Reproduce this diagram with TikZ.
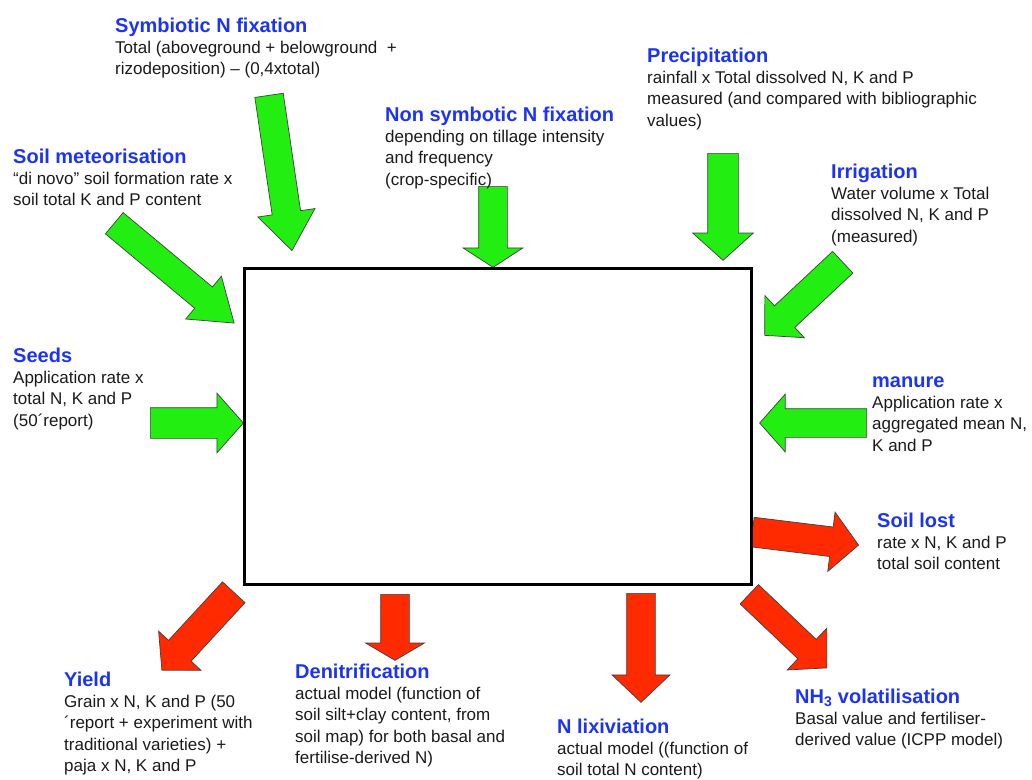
\documentclass[tikz,border=0pt]{standalone}
\usepackage{fontspec}
\setmainfont{Liberation Sans}
\usepackage{xcolor}
\usetikzlibrary{positioning,shapes.arrows}
\definecolor{fbGreen}{HTML}{22EE11}
\definecolor{fbRed}{HTML}{FF2A00}
\definecolor{fbBlue}{HTML}{1C34F2}
\definecolor{fbInk}{HTML}{1A1A1A}
\tikzset{
  basin/.style={draw=black, line width=3pt, minimum width=507pt, minimum height=316pt,
                inner sep=0pt},
  block/.style={single arrow, draw=black!75, line width=0.7pt, inner sep=0pt,
                minimum width=0pt, text height=29pt, text depth=0pt, anchor=tail,
                minimum height=107pt, single arrow head extend=14pt,
                single arrow tip angle=95},
  inflow/.style={block, fill=fbGreen},
  outflow/.style={block, fill=fbRed},
  ttl/.style={anchor=base west, inner sep=0pt, text depth=4pt, text=fbBlue,
              font=\fontsize{20}{24}\selectfont\bfseries},
  note/.style={inner sep=0pt, align=left, text=fbInk,
               font=\fontsize{17}{21.5}\selectfont},
}

\begin{document}
\begin{tikzpicture}[x=1pt, y=-1pt]
  \useasboundingbox (0,0) rectangle (1032,779);

  % inputs (green)
  \node[inflow, rotate=-81.6, minimum height=157pt, text height=28pt,
        single arrow head extend=14.5pt, single arrow tip angle=74] (symbA) at (269,95) {};
  \node[inflow, rotate=-39.8, minimum height=156pt, text height=27pt,
        single arrow tip angle=70] (meteoA) at (114,223) {};
  \node[inflow, rotate=-90, minimum height=81pt, text height=28pt,
        single arrow head extend=15.5pt, single arrow tip angle=114] (nonsymA) at (493,186) {};
  \node[inflow, rotate=-90, text height=30pt, single arrow head extend=15pt,
        single arrow tip angle=96] (precA) at (723,153) {};
  \node[inflow, rotate=-136.9, single arrow tip angle=93] (irrA) at (843,262) {};
  \node[inflow, minimum height=93pt, text height=30pt, single arrow head extend=14.5pt,
        single arrow tip angle=97] (seedA) at (150,423) {};
  \node[inflow, rotate=180, text height=28pt, single arrow head extend=14.5pt,
        single arrow tip angle=97] (manA) at (867,423) {};

  % outputs (red)
  \node[outflow, rotate=-7, single arrow head extend=15pt] (lostA) at (752,532) {};
  \node[outflow, rotate=-132.7, minimum height=106pt, text height=30pt,
        single arrow head extend=13.5pt] (yieldA) at (234,592) {};
  \node[outflow, rotate=-90, minimum height=66pt, text height=28pt,
        single arrow head extend=15pt, single arrow tip angle=119] (denA) at (395,594) {};
  \node[outflow, rotate=-90, minimum height=109pt, text height=28pt,
        single arrow head extend=14.5pt, single arrow tip angle=93] (lixA) at (641,593) {};
  \node[outflow, rotate=-43.5, text height=26pt, single arrow head extend=15.5pt,
        single arrow tip angle=93] (nhA) at (749,594) {};

  % field box
  \node[basin] (field) at (497.5,426) {};

  % labels
  \node[ttl] (symbT) at (115,32) {Symbiotic N fixation};
  \node[note, below=2pt of symbT.south west, anchor=north west] (symbB)
    {\strut Total (aboveground + belowground\ \ +\\ rizodeposition) – (0,4xtotal)};

  \node[ttl] (meteoT) at (13,163) {Soil meteorisation};
  \node[note, below=2pt of meteoT.south west, anchor=north west] (meteoB)
    {\strut “di novo” soil formation rate x\\ soil total K and P content};

  \node[ttl] (nonsymT) at (385,121) {Non symbotic N fixation};
  \node[note, below=2pt of nonsymT.south west, anchor=north west] (nonsymB)
    {\strut depending on tillage intensity\\ and frequency\\ (crop-specific)};

  \node[ttl] (precT) at (647,62) {Precipitation};
  \node[note, below=2pt of precT.south west, anchor=north west] (precB)
    {\strut rainfall x Total dissolved N, K and P\\ measured (and compared with bibliographic\\ values)};

  \node[ttl] (irrT) at (831,178) {Irrigation};
  \node[note, below=2pt of irrT.south west, anchor=north west] (irrB)
    {\strut Water volume x Total\\ dissolved N, K and P\\ (measured)};

  \node[ttl] (seedT) at (13,362) {Seeds};
  \node[note, below=2pt of seedT.south west, anchor=north west] (seedB)
    {\strut Application rate x\\ total N, K and P\\ (50´report)};

  \node[ttl] (manT) at (872,387) {manure};
  \node[note, below=2pt of manT.south west, anchor=north west] (manB)
    {\strut Application rate x\\ aggregated mean N,\\ K and P};

  \node[ttl] (lostT) at (877,527) {Soil lost};
  \node[note, below=2pt of lostT.south west, anchor=north west] (lostB)
    {\strut rate x N, K and P\\ total soil content};

  \node[ttl] (yieldT) at (64,686) {Yield};
  \node[note, below=2pt of yieldT.south west, anchor=north west] (yieldB)
    {\strut Grain x N, K and P (50\\ ´report + experiment with\\ traditional varieties) +\\ paja x N, K and P};

  \node[ttl] (denT) at (295,678) {Denitrification};
  \node[note, below=2pt of denT.south west, anchor=north west] (denB)
    {\strut actual model (function of\\ soil silt+clay content, from\\ soil map) for both basal and\\ fertilise-derived N)};

  \node[ttl] (lixT) at (557,733) {N lixiviation};
  \node[note, below=2pt of lixT.south west, anchor=north west] (lixB)
    {\strut actual model ((function of\\ soil total N content)};

  \node[ttl] (nhT) at (795,703) {NH\textsubscript{3} volatilisation};
  \node[note, below=2pt of nhT.south west, anchor=north west] (nhB)
    {\strut Basal value and fertiliser-\\ derived value (ICPP model)};
\end{tikzpicture}
\end{document}
